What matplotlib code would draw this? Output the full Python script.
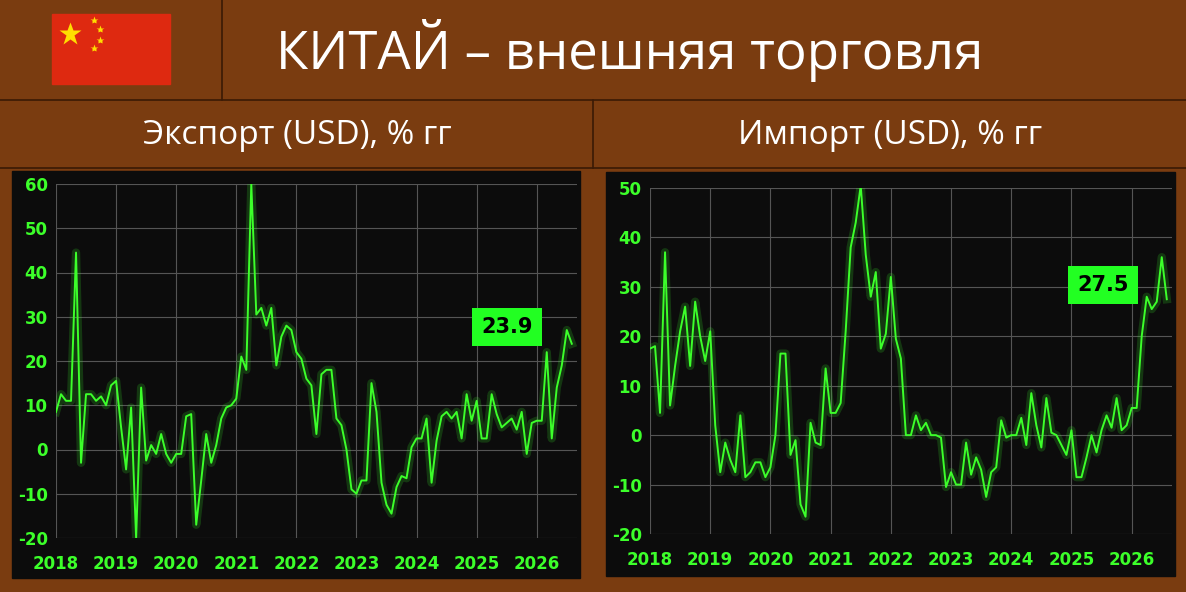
import numpy as np
import matplotlib
matplotlib.use("Agg")
import matplotlib.pyplot as plt
from matplotlib.patches import Rectangle

plt.rcParams["axes.unicode_minus"] = False

title = "КИТАЙ – внешняя торговля"
sub_left = "Экспорт (USD), % гг"
sub_right = "Импорт (USD), % гг"
years = [2018, 2019, 2020, 2021, 2022, 2023, 2024, 2025, 2026]

export_yoy = [8.5, 12.5, 11, 11, 44.5, -3, 12.5, 12.5, 11, 12, 10, 14.5,
              15.5, 5, -4.5, 9.5, -20, 14, -2.5, 1, -1, 3.5, -1, -3,
              -1, -1, 7.5, 8, -17, -7, 3.5, -3, 1, 7, 9.5, 10,
              11.5, 21, 18, 60, 30.5, 32, 28, 32, 19, 25.5, 28, 27,
              22, 20.5, 16, 14.5, 3.5, 17, 18, 18, 7, 5.5, 0, -9,
              -10, -7, -7, 15, 8.5, -7.5, -12.5, -14.5, -8.5, -6, -6.5, 0.5,
              2.5, 2.5, 7, -7.5, 2, 7.5, 8.5, 7, 8.5, 2.5, 12.5, 6.5,
              11, 2.5, 2.5, 12.5, 8, 5, 6, 7, 4.5, 8.5, -1, 6,
              6.5, 6.5, 22, 2.5, 14, 19, 27, 23.9]
import_yoy = [17.5, 18, 4.5, 37, 6, 14, 21, 26, 14, 27, 20, 15,
              21, 2, -7.5, -1.5, -5, -7.5, 4, -8.5, -7.5, -5.5, -5.5, -8.5,
              -6.5, 0, 16.5, 16.5, -4, -1, -14, -16.5, 2.5, -1.5, -2, 13.5,
              4.5, 4.5, 6.5, 21, 38, 43, 50.5, 36.5, 28, 33, 17.5, 20.5,
              32, 19.5, 15.5, 0, 0, 4, 1, 2.5, 0, 0, -0.5, -10.5,
              -7.5, -10, -10, -1.5, -8, -4.5, -7, -12.5, -7.5, -6.5, 3, -0.5,
              0, 0, 3.5, -2, 8.5, 2, -2.5, 7.5, 0.5, 0, -2, -4,
              1, -8.5, -8.5, -4.5, 0, -3.5, 1, 4, 1.5, 7.5, 1, 2,
              5.5, 5.5, 20, 28, 25.5, 27, 36, 27.5]

W, H = 1186, 592
BROWN = "#7a3c10"
GREEN = "#3cff2a"
fig = plt.figure(figsize=(W/100, H/100), dpi=100, facecolor=BROWN)

def fx(x): return x / W
def fy(y): return 1 - y / H

bg = fig.add_axes([0, 0, 1, 1]); bg.set_axis_off(); bg.set_xlim(0, W); bg.set_ylim(H, 0)
for y in (100, 168):
    bg.plot([0, W], [y, y], color="#3a1a05", lw=1.2)
bg.plot([222, 222], [0, 100], color="#3a1a05", lw=1.2)
bg.plot([593, 593], [100, 168], color="#3a1a05", lw=1.2)
bg.add_patch(Rectangle((52, 14), 118, 70, color="#de2910"))
bg.plot([70], [34], marker="*", ms=17, color="#ffde00", mec="none")
for sx, sy in [(94, 20), (100, 29), (100, 40), (94, 48)]:
    bg.plot([sx], [sy], marker="*", ms=6, color="#ffde00", mec="none")
bg.add_patch(Rectangle((12, 171), 568, 407, color="#0c0c0c"))
bg.add_patch(Rectangle((606, 172), 569, 404, color="#0c0c0c"))

fig.text(fx(630), fy(50), title, color="white", fontsize=38, ha="center", va="center", family="Open Sans")
fig.text(fx(297), fy(135), sub_left, color="white", fontsize=24, ha="center", va="center", family="Open Sans")
fig.text(fx(890), fy(135), sub_right, color="white", fontsize=24, ha="center", va="center", family="Open Sans")

def panel(rect, data, ylim, yticks, label, lab_xy):
    l, t, r, b = rect
    ax = fig.add_axes([fx(l), fy(b), fx(r - l), (b - t) / H])
    ax.set_facecolor("#0c0c0c")
    x = 2018 + np.arange(len(data)) / 12
    ax.plot(x, data, color=GREEN, lw=6, alpha=0.18, solid_joinstyle="round")
    ax.plot(x, data, color=GREEN, lw=1.4)
    ax.set_xlim(2018, 2026.67)
    ax.set_ylim(*ylim)
    ax.set_xticks(years)
    ax.set_yticks(yticks)
    ax.grid(color="#555555", lw=0.8)
    ax.set_axisbelow(True)
    for s in ax.spines.values():
        s.set_visible(False)
    ax.tick_params(length=0, colors=GREEN, labelsize=12)
    for lab in ax.get_xticklabels() + ax.get_yticklabels():
        lab.set_fontweight("bold")
    ax.tick_params(axis="x", pad=12)
    ax.tick_params(axis="y", pad=6)
    ax.text(lab_xy[0], lab_xy[1], label, color="black", fontsize=15, fontweight="bold",
            ha="center", va="center",
            bbox=dict(boxstyle="square,pad=0.45", fc="#22ff22", ec="none"))
    return ax

panel((56, 184, 577, 538), export_yoy, (-20, 60), range(-20, 61, 10), "23.9", (2025.5, 27.7))
panel((650, 188, 1172, 534), import_yoy, (-20, 50), range(-20, 51, 10), "27.5", (2025.53, 30.4))

fig.savefig("out.png", dpi=100, facecolor=BROWN)
